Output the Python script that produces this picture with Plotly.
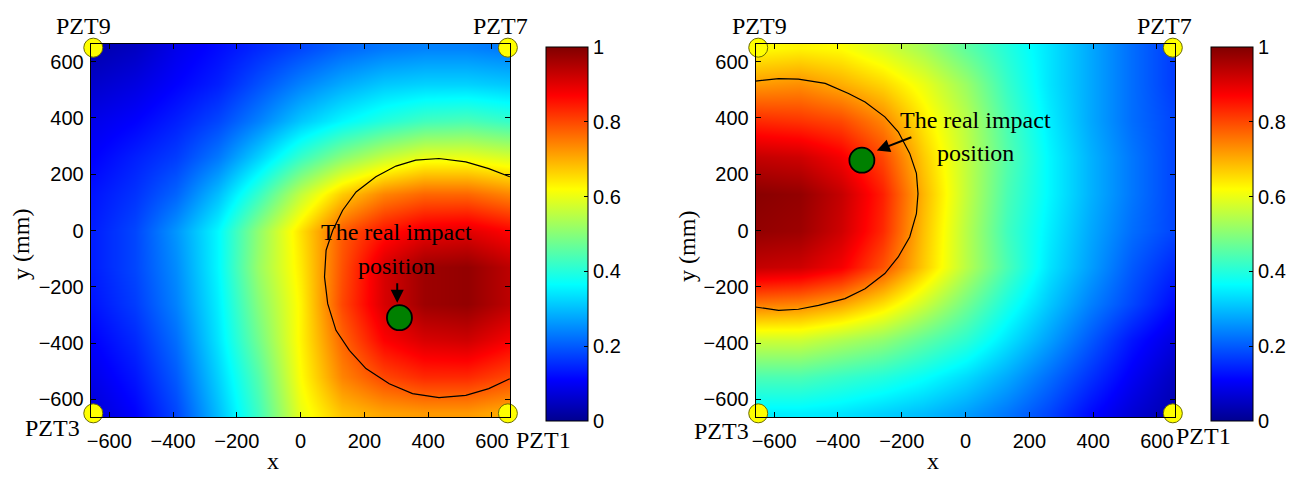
import plotly.graph_objects as go

W, H = 1300, 477

# ---------------- data ----------------
x_nodes = [-650, -520, -390, -260, -130, 0, 130, 260, 390, 520, 650]
y_nodes = [650, 520, 390, 260, 130, 0, -130, -260, -390, -520, -650]  # rows top -> bottom

z_left = [
    [0.03, 0.05, 0.09, 0.12, 0.15, 0.18, 0.21, 0.23, 0.24, 0.24, 0.23],
    [0.06, 0.08, 0.11, 0.14, 0.19, 0.24, 0.28, 0.31, 0.32, 0.32, 0.31],
    [0.09, 0.11, 0.14, 0.18, 0.24, 0.31, 0.36, 0.40, 0.43, 0.44, 0.42],
    [0.11, 0.14, 0.17, 0.23, 0.32, 0.42, 0.50, 0.56, 0.60, 0.60, 0.58],
    [0.13, 0.16, 0.21, 0.30, 0.42, 0.56, 0.67, 0.74, 0.77, 0.77, 0.74],
    [0.14, 0.18, 0.26, 0.36, 0.51, 0.65, 0.78, 0.85, 0.89, 0.90, 0.87],
    [0.14, 0.18, 0.25, 0.36, 0.52, 0.64, 0.79, 0.91, 0.97, 0.98, 0.94],
    [0.13, 0.17, 0.24, 0.35, 0.50, 0.63, 0.80, 0.91, 0.97, 0.98, 0.94],
    [0.11, 0.15, 0.22, 0.34, 0.48, 0.63, 0.77, 0.87, 0.91, 0.92, 0.88],
    [0.09, 0.13, 0.20, 0.32, 0.45, 0.62, 0.74, 0.80, 0.83, 0.83, 0.80],
    [0.07, 0.11, 0.18, 0.30, 0.43, 0.60, 0.68, 0.71, 0.72, 0.72, 0.70],
]

z_right = [
    [0.62, 0.63, 0.62, 0.58, 0.53, 0.46, 0.40, 0.34, 0.28, 0.22, 0.17],
    [0.72, 0.73, 0.70, 0.66, 0.60, 0.52, 0.42, 0.34, 0.28, 0.22, 0.17],
    [0.83, 0.82, 0.80, 0.74, 0.64, 0.55, 0.44, 0.35, 0.28, 0.22, 0.18],
    [0.93, 0.92, 0.88, 0.80, 0.67, 0.56, 0.45, 0.36, 0.29, 0.23, 0.18],
    [0.99, 0.98, 0.93, 0.84, 0.69, 0.56, 0.44, 0.36, 0.29, 0.23, 0.18],
    [0.98, 0.97, 0.92, 0.83, 0.68, 0.55, 0.43, 0.35, 0.28, 0.22, 0.18],
    [0.93, 0.92, 0.88, 0.79, 0.67, 0.55, 0.44, 0.34, 0.27, 0.20, 0.15],
    [0.75, 0.74, 0.71, 0.65, 0.57, 0.48, 0.39, 0.31, 0.24, 0.18, 0.12],
    [0.57, 0.57, 0.54, 0.51, 0.46, 0.41, 0.34, 0.27, 0.20, 0.13, 0.08],
    [0.44, 0.44, 0.42, 0.40, 0.37, 0.33, 0.28, 0.22, 0.16, 0.10, 0.05],
    [0.35, 0.35, 0.34, 0.32, 0.30, 0.27, 0.23, 0.18, 0.12, 0.07, 0.03],
]

# boundary line
contour_left_x = [656, 590, 518, 434, 361, 299, 236, 174, 132, 101, 80, 75, 85, 111, 153, 205, 278, 351, 434, 518, 590, 656]
contour_left_y = [191, 220, 244, 256, 250, 229, 191, 137, 72, 1, -70, -165, -260, -355, -426, -491, -545, -580, -594, -586, -562, -527]
contour_right_x = [-659, -586, -524, -440, -367, -315, -253, -211, -175, -154, -149, -154, -175, -211, -253, -315, -378, -461, -524, -586, -659]
contour_right_y = [531, 540, 538, 523, 487, 457, 404, 351, 274, 203, 131, 60, -23, -94, -153, -207, -242, -266, -280, -284, -272]

pzt_x = [-650, 650, -650, 650]
pzt_y = [650, 650, -650, -650]
pzt_names = ["PZT9", "PZT7", "PZT3", "PZT1"]

impact_left = (310, -310)
impact_right = (-325, 250)

axis_ticks = [-600, -400, -200, 0, 200, 400, 600]
cbar_ticks = [0, 0.2, 0.4, 0.6, 0.8, 1]
cbar_labels = ["0", "0.2", "0.4", "0.6", "0.8", "1"]

jet = [
    [0.0, "rgb(0,0,143)"],
    [0.11, "rgb(0,0,255)"],
    [0.365, "rgb(0,255,255)"],
    [0.62, "rgb(255,255,0)"],
    [0.87, "rgb(255,0,0)"],
    [1.0, "rgb(128,0,0)"],
]

SANS = "Liberation Sans, Arial, sans-serif"
SERIF = "Liberation Serif, Times New Roman, serif"

# ---------------- layout geometry (pixels) ----------------
panels = [
    dict(x0=87, x1=508, cb=544, xa="x", ya="y", z=z_left, cx=contour_left_x, cy=contour_left_y,
         imp=impact_left),
    dict(x0=754, x1=1175, cb=1211, xa="x2", ya="y2", z=z_right, cx=contour_right_x, cy=contour_right_y,
         imp=impact_right),
]
Y0, Y1 = 44, 417

fig = go.Figure()
for p in panels:
    fig.add_trace(go.Heatmap(
        x=x_nodes, y=y_nodes[::-1], z=p["z"][::-1],
        zmin=0, zmax=1, zsmooth="best", colorscale=jet,
        xaxis=p["xa"], yaxis=p["ya"], hoverinfo="skip",
        colorbar=dict(
            x=p["cb"] / W, xanchor="left", xpad=0, ypad=0,
            y=1 - (47 + 421) / 2 / H, yanchor="middle",
            len=(421 - 47) / H, lenmode="fraction",
            thickness=42, thicknessmode="pixels",
            outlinewidth=1, outlinecolor="black",
            tickvals=cbar_ticks, ticktext=cbar_labels,
            ticks="inside", ticklen=4, tickcolor="black",
            tickfont=dict(family=SANS, size=20, color="black"),
        ),
    ))
    fig.add_trace(go.Scatter(
        x=p["cx"], y=p["cy"], mode="lines", line=dict(color="black", width=1.2),
        xaxis=p["xa"], yaxis=p["ya"], showlegend=False, hoverinfo="skip",
    ))
    fig.add_trace(go.Scatter(
        x=pzt_x, y=pzt_y, mode="markers",
        marker=dict(size=19, color="#ffff00", line=dict(color="#6b6b00", width=1)),
        xaxis=p["xa"], yaxis=p["ya"], showlegend=False, cliponaxis=False, hoverinfo="skip",
    ))
    fig.add_trace(go.Scatter(
        x=[p["imp"][0]], y=[p["imp"][1]], mode="markers",
        marker=dict(size=25, color="#008000", line=dict(color="black", width=1.8)),
        xaxis=p["xa"], yaxis=p["ya"], showlegend=False, hoverinfo="skip",
    ))

ax_common = dict(
    range=[-658, 658], tickvals=axis_ticks, ticks="inside", ticklen=5, tickcolor="black",
    showline=True, linecolor="black", linewidth=1, mirror="ticks", showgrid=False, zeroline=False,
    tickfont=dict(family=SANS, size=20, color="black"),
)
ydom = [1 - Y1 / H, 1 - Y0 / H]
fig.update_layout(
    width=W, height=H, margin=dict(l=0, r=0, t=0, b=0),
    paper_bgcolor="white", plot_bgcolor="white", showlegend=False,
    xaxis=dict(domain=[87 / W, 508 / W], anchor="y", ticklabelstandoff=6, **ax_common),
    yaxis=dict(domain=ydom, anchor="x", ticklabelstandoff=2, **{**ax_common, "range": [-663, 663]}),
    xaxis2=dict(domain=[754 / W, 1175 / W], anchor="y2", ticklabelstandoff=6, **ax_common),
    yaxis2=dict(domain=ydom, anchor="x2", ticklabelstandoff=2, **{**ax_common, "range": [-663, 663]}),
)

ann = []
def ptext(text, px, py, size=24, family=SERIF, angle=0, yanchor="middle"):
    ann.append(dict(text=text, x=px / W, y=1 - py / H, xref="paper", yref="paper",
                    xanchor="center", yanchor=yanchor, showarrow=False, textangle=angle,
                    font=dict(family=family, size=size, color="black")))

# PZT labels
for name, (px, py) in zip(pzt_names, [(80, 26), (498, 26), (49, 428), (541, 440)]):
    ptext(name, px, py)
for name, (px, py) in zip(pzt_names, [(758, 26), (1164, 26), (720, 431), (1203, 436)]):
    ptext(name, px, py)

# axis titles
ptext("x", 270, 476, yanchor="bottom")
ptext("x", 932, 476, yanchor="bottom")
ptext("y (mm)", 17, 244, angle=-90)
ptext("y (mm)", 685, 246, angle=-90)

# impact texts
ptext("The real impact", 394, 232)
ptext("position", 394, 266)
ptext("The real impact", 974, 120)
ptext("position", 974, 153)

# arrows
ann.append(dict(x=303, y=-257, xref="x", yref="y", ax=0, ay=-21, text="", showarrow=True,
                arrowhead=2, arrowsize=1.3, arrowwidth=2, arrowcolor="black", standoff=0))
ann.append(dict(x=-278, y=284, xref="x2", yref="y2", ax=36, ay=-14, text="", showarrow=True,
                arrowhead=2, arrowsize=1.3, arrowwidth=2, arrowcolor="black", standoff=0))
fig.update_layout(annotations=ann)

fig.write_html("out.html")
